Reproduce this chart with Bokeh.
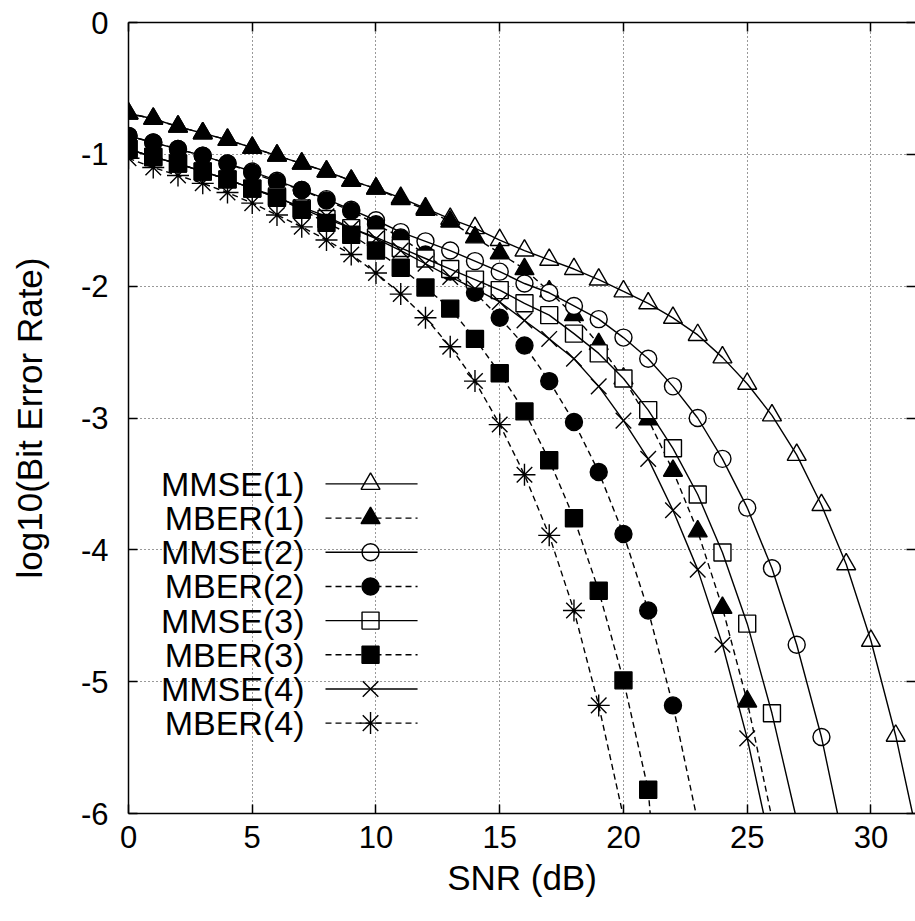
from bokeh.plotting import figure
from bokeh.models import FixedTicker, LinearAxis, Range1d, CustomJSTickFormatter
from bokeh.embed import file_html
from bokeh.resources import INLINE
from bokeh.core.properties import value

# ---------------- data ----------------
labels = ["MMSE(1)", "MBER(1)", "MMSE(2)", "MBER(2)",
          "MMSE(3)", "MBER(3)", "MMSE(4)", "MBER(4)"]

mmse1_y = [-0.69, -0.73, -0.79, -0.84, -0.89, -0.95, -1.01, -1.07, -1.13, -1.20,
           -1.26, -1.33, -1.41, -1.49, -1.56, -1.65, -1.73, -1.80, -1.87, -1.95,
           -2.04, -2.13, -2.24, -2.37, -2.54, -2.74, -2.98, -3.28, -3.66, -4.11,
           -4.69, -5.41]
mber1_y = [-0.69, -0.73, -0.79, -0.84, -0.89, -0.95, -1.01, -1.07, -1.13, -1.20,
           -1.26, -1.34, -1.42, -1.51, -1.63, -1.75, -1.87, -2.04, -2.22, -2.44,
           -2.70, -3.01, -3.40, -3.86, -4.44, -5.15]
mmse2_y = [-0.86, -0.91, -0.96, -1.01, -1.07, -1.13, -1.20, -1.27, -1.34, -1.42,
           -1.50, -1.59, -1.66, -1.73, -1.81, -1.89, -1.98, -2.05, -2.15, -2.25,
           -2.39, -2.55, -2.76, -3.00, -3.31, -3.68, -4.14, -4.72, -5.42]
mber2_y = [-0.86, -0.91, -0.96, -1.01, -1.07, -1.14, -1.21, -1.27, -1.35, -1.43,
           -1.53, -1.63, -1.76, -1.89, -2.05, -2.24, -2.45, -2.72, -3.03, -3.41,
           -3.88, -4.46, -5.18]
mmse3_y = [-0.96, -1.02, -1.07, -1.13, -1.19, -1.26, -1.32, -1.41, -1.49, -1.56,
           -1.63, -1.71, -1.79, -1.87, -1.95, -2.03, -2.13, -2.22, -2.36, -2.51,
           -2.70, -2.94, -3.23, -3.58, -4.02, -4.56, -5.24]
mber3_y = [-0.96, -1.02, -1.07, -1.13, -1.19, -1.26, -1.33, -1.42, -1.52, -1.61,
           -1.73, -1.86, -2.01, -2.17, -2.40, -2.66, -2.95, -3.32, -3.76, -4.31,
           -4.99, -5.82]
mmse4_y = [-0.96, -1.02, -1.07, -1.13, -1.19, -1.26, -1.33, -1.40, -1.47, -1.56,
           -1.64, -1.73, -1.83, -1.93, -2.02, -2.12, -2.26, -2.40, -2.55, -2.76,
           -3.02, -3.31, -3.70, -4.15, -4.72, -5.43]
mber4_y = [-1.03, -1.10, -1.16, -1.22, -1.29, -1.37, -1.46, -1.55, -1.65, -1.76,
           -1.90, -2.06, -2.24, -2.46, -2.72, -3.05, -3.43, -3.89, -4.46, -5.18]

# SNR where each curve leaves the bottom of the plot (log10 BER = -6)
end_snr = [31.68, 25.96, 28.65, 22.93, 26.94, 21.08, 25.66, 19.97]
floor_y = -6.0

x_ticks = [0, 5, 10, 15, 20, 25, 30]
y_ticks = [0, -1, -2, -3, -4, -5, -6]

series_y = [mmse1_y, mber1_y, mmse2_y, mber2_y, mmse3_y, mber3_y, mmse4_y, mber4_y]

# ---------------- styles ----------------
FONT = "Liberation Sans"
styles = [
    dict(marker="triangle", size=19, fill="white", dash="solid"),
    dict(marker="triangle", size=19, fill="black", dash="6 4"),
    dict(marker="circle", size=17, fill="white", dash="solid"),
    dict(marker="circle", size=17, fill="black", dash="6 4"),
    dict(marker="square", size=17, fill="white", dash="solid"),
    dict(marker="square", size=17, fill="black", dash="6 4"),
    dict(marker="x", size=22, fill="black", dash="solid"),
    dict(marker="asterisk", size=22, fill="black", dash="6 4"),
]

p = figure(width=915, height=921, output_backend="svg", toolbar_location=None,
           x_range=Range1d(0, 31.8), y_range=Range1d(-6, 0),
           min_border_left=128, min_border_right=0, min_border_top=22,
           min_border_bottom=108)
p.outline_line_color = None
p.background_fill_color = "white"
p.border_fill_color = "white"

num_fmt = CustomJSTickFormatter(code="return tick.toFixed(0);")
for ax in (p.xaxis[0], p.yaxis[0]):
    ax.formatter = num_fmt
    ax.major_label_text_font = FONT
    ax.major_label_text_font_size = "31px"
    ax.major_label_text_color = "black"
    ax.axis_label_text_font = FONT
    ax.axis_label_text_font_size = "35px"
    ax.axis_label_text_font_style = "normal"
    ax.axis_label_text_color = "black"
    ax.axis_line_width = 1.5
    ax.axis_line_color = "black"
    ax.major_tick_in = 9
    ax.major_tick_out = 0
    ax.major_tick_line_width = 1.5
    ax.minor_tick_line_color = None

p.xaxis[0].ticker = FixedTicker(ticks=x_ticks)
p.yaxis[0].ticker = FixedTicker(ticks=y_ticks)
p.xaxis[0].axis_label = "SNR (dB)"
p.yaxis[0].axis_label = "log10(Bit Error Rate)"
p.xaxis[0].major_label_standoff = 12
p.yaxis[0].major_label_standoff = 20
p.xaxis[0].axis_label_standoff = 7
p.yaxis[0].axis_label_standoff = 29

blank_fmt = CustomJSTickFormatter(code="return '';")
top = LinearAxis(ticker=FixedTicker(ticks=x_ticks), formatter=blank_fmt,
                 major_label_standoff=0, major_tick_in=9, major_tick_out=0,
                 major_tick_line_width=1.5, axis_line_width=1.5,
                 minor_tick_line_color=None)
right = LinearAxis(ticker=FixedTicker(ticks=y_ticks), formatter=blank_fmt,
                   major_label_standoff=0, major_tick_in=9, major_tick_out=0,
                   major_tick_line_width=1.5, axis_line_color=None,
                   minor_tick_line_color=None)
p.add_layout(top, "above")
p.add_layout(right, "right")

p.xgrid.ticker = FixedTicker(ticks=x_ticks)
p.ygrid.ticker = FixedTicker(ticks=y_ticks)
for g in (p.xgrid[0], p.ygrid[0]):
    g.grid_line_color = "#333333"
    g.grid_line_dash = "1 3"
    g.grid_line_width = 1

# ---------------- curves ----------------
for ys, st, xe in zip(series_y, styles, end_snr):
    xs = list(range(len(ys)))
    p.scatter(xs, ys, marker=st["marker"], size=st["size"],
              fill_color=st["fill"], line_color="black", line_width=1.4)
    p.line(xs + [xe], ys + [floor_y], line_color="black", line_width=1.4,
           line_dash=st["dash"])

# ---------------- legend (drawn in data units) ----------------
LEG_TEXT_X = 7.11
LEG_L0, LEG_L1, LEG_M = 7.96, 11.68, 9.78
LEG_Y0, LEG_DY = -3.50, 0.2592
for i, (lab, st) in enumerate(zip(labels, styles)):
    yy = LEG_Y0 - i * LEG_DY
    p.text([LEG_TEXT_X], [yy], text=[lab], text_align="right", text_baseline="middle",
           text_font=value(FONT), text_font_size="34px", text_color="black")
    p.scatter([LEG_M], [yy], marker=st["marker"], size=st["size"],
              fill_color=st["fill"], line_color="black", line_width=1.4)
    p.segment([LEG_L0], [yy], [LEG_L1], [yy], line_color="black", line_width=1.4,
              line_dash=st["dash"])

open("out.html", "w").write(file_html(p, INLINE))
